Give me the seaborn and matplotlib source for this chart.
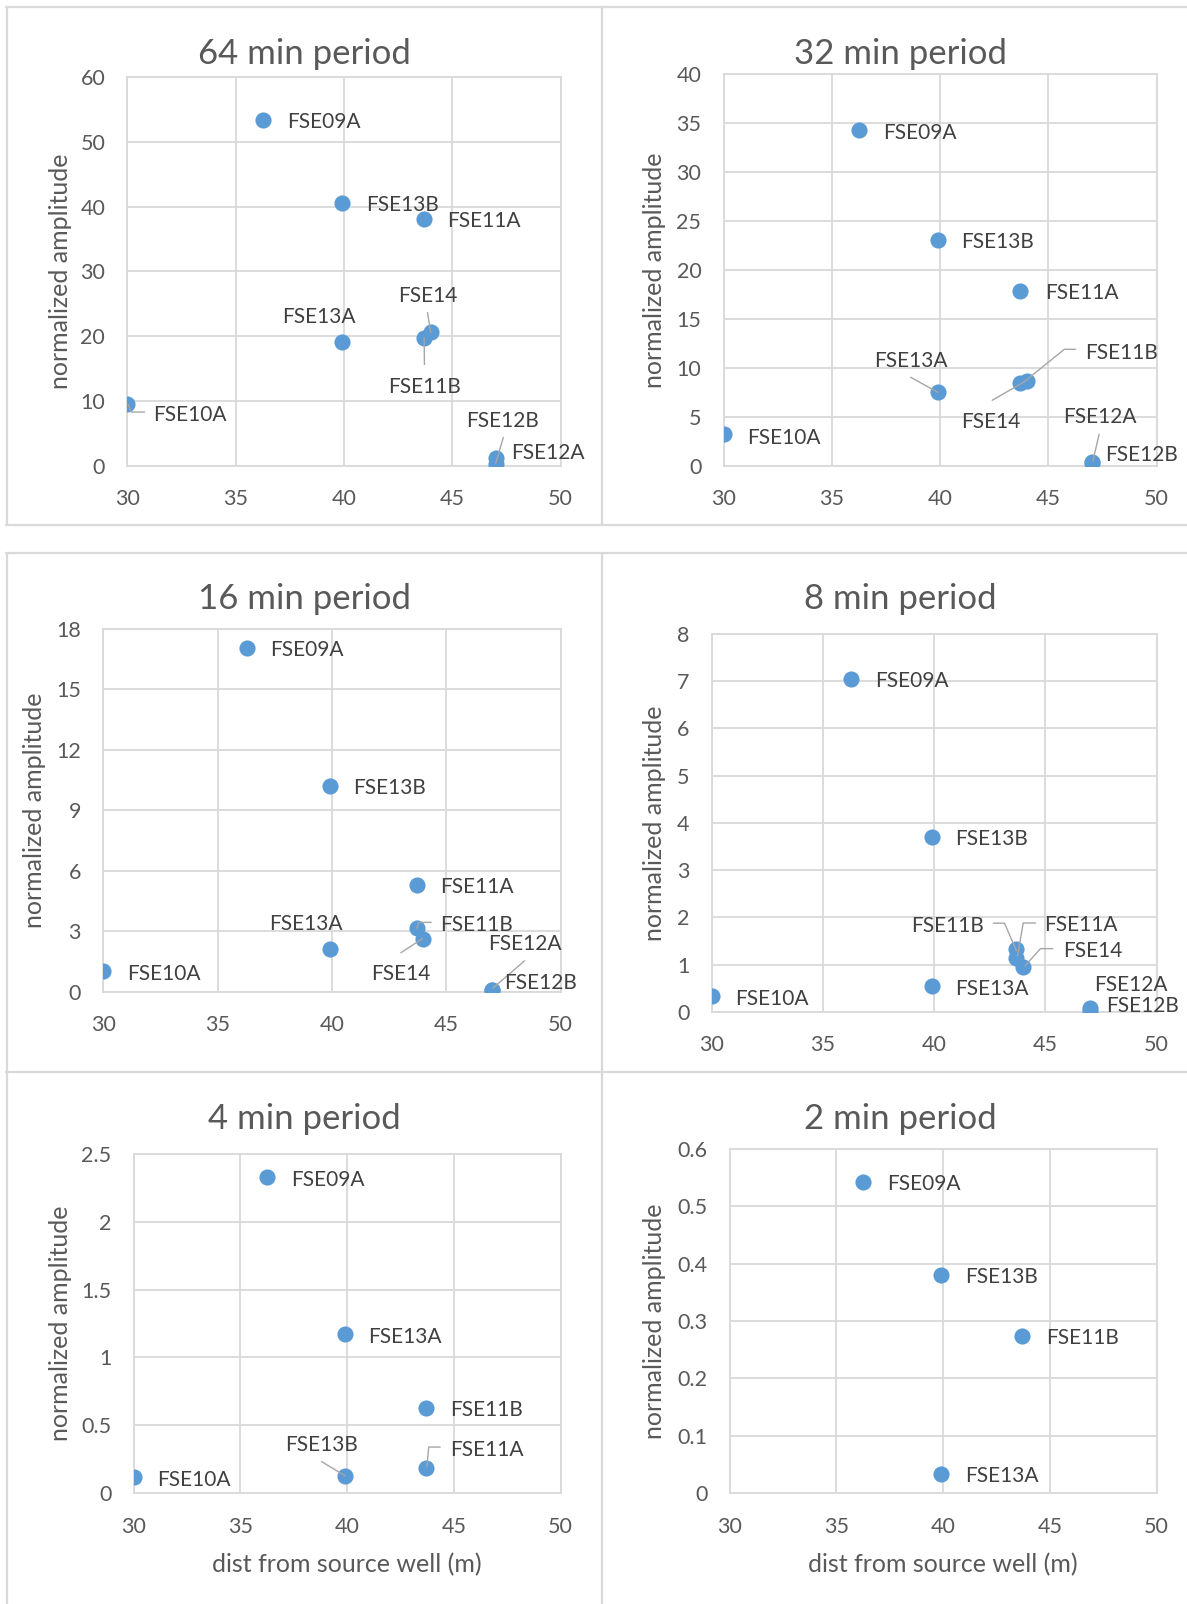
import numpy as np
import pandas as pd
import matplotlib
matplotlib.use("Agg")
import matplotlib.pyplot as plt
import seaborn as sns
from matplotlib.lines import Line2D
from matplotlib.transforms import Affine2D, ScaledTranslation
from matplotlib.ticker import FuncFormatter, MultipleLocator

# ---------------------------------------------------------------- data
wells = ["FSE10A", "FSE09A", "FSE13A", "FSE13B", "FSE11A",
         "FSE11B", "FSE14", "FSE12A", "FSE12B"]
dist_m = [30.0, 36.27, 39.9, 39.9, 43.7, 43.7, 44.0, 47.0, 47.0]

amp_64min = [9.5, 53.4, 19.1, 40.6, 38.1, 19.8, 20.6, 1.15, 0.25]
amp_32min = [3.2, 34.3, 7.5, 23.1, 17.9, 8.45, 8.7, 0.35, 0.25]
amp_16min = [1.0, 17.05, 2.13, 10.2, 5.31, 3.15, 2.63, 0.10, 0.06]
amp_8min = [0.34, 7.05, 0.54, 3.71, 1.33, 1.14, 0.95, 0.07, 0.02]

wells_4min = ["FSE10A", "FSE09A", "FSE13A", "FSE13B", "FSE11A", "FSE11B"]
dist_4min = [30.0, 36.27, 39.9, 39.9, 43.7, 43.7]
amp_4min = [0.115, 2.33, 1.17, 0.128, 0.186, 0.63]

wells_2min = ["FSE09A", "FSE13A", "FSE13B", "FSE11B"]
dist_2min = [36.27, 39.9, 39.9, 43.7]
amp_2min = [0.5425, 0.034, 0.381, 0.274]

titles = ["64 min period", "32 min period", "16 min period",
          "8 min period", "4 min period", "2 min period"]
y_max = [60, 40, 18, 8, 2.5, 0.6]
y_step = [10, 5, 3, 1, 0.5, 0.1]
x_ticks = [30, 35, 40, 45, 50]
y_label = "normalized amplitude"
x_label = "dist from source well (m)"

# ---------------------------------------------------------------- style
W, H = 1187, 1604
BLUE = "#5b9bd5"
GRID = "#d9d9d9"
TEXT = "#595959"
LABEL_TEXT = "#404040"
LEADER = "#a6a6a6"
LABEL_PT = 15
CAP = LABEL_PT * 0.72 * 100 / 72

sns.set_theme(style="white")
plt.rcParams["font.family"] = ["Lato", "DejaVu Sans"]

fig = plt.figure(figsize=(W / 100, H / 100), dpi=100)
fig.patch.set_facecolor("white")


def rect(l, t, r, b):
    return [l / W, 1 - b / H, (r - l) / W, (b - t) / H]


def fx(x):
    return x / W


def fy(y):
    return 1 - y / H


# plot-area boxes (left, top, right, bottom) in pixels
boxes = [(127.4, 77.1, 560.6, 465.8), (723.5, 74.4, 1156.7, 465.8),
         (103.3, 628.6, 560.6, 991.6), (711.6, 634.0, 1156.7, 1011.8),
         (133.6, 1154.1, 560.6, 1493.0), (729.5, 1149.0, 1156.7, 1493.0)]
title_pos = [(304, 64), (900, 64), (305, 609), (900, 609),
             (304, 1128.6), (900, 1128.6)]
ylabel_x = [60, 655, 34.5, 654, 60, 654]

DEFAULT = ("left", 24, 1, None)
# label placement: (align, dx, dy, leader path) in pixels, y downwards
place_64 = {
    "FSE09A": ("left", 24, 1, None),
    "FSE13B": ("left", 24, 1, None),
    "FSE11A": ("left", 23, 1, None),
    "FSE13A": ("center", -23, -27, None),
    "FSE14": ("center", -3, -37.5, [(-3.1, -19.7), (0, 0)]),
    "FSE11B": ("center", 0, 47.7, [(0.3, 27), (0, 0)]),
    "FSE10A": ("left", 26, 9, [(0.7, 0), (3.8, 7.8), (17.2, 7.8)]),
    "FSE12A": ("left", 16, -6.8, None),
    "FSE12B": ("center", 6.9, -44.6, [(7.7, -26.7), (0, -0.6)]),
}
place_32 = {
    "FSE09A": ("left", 24.3, 1, None),
    "FSE13B": ("left", 23.6, 1, None),
    "FSE11A": ("left", 24.4, 1, None),
    "FSE13A": ("center", -27, -32.8, [(-27.3, -15.2), (0, 0)]),
    "FSE11B": ("left", 64.8, -31.7, [(3, -0.6), (44.1, -33.8), (55.4, -33.8)]),
    "FSE14": ("center", -35.6, 39.5, [(-34.5, 19.6), (-3.4, 1.7)]),
    "FSE10A": ("left", 24, 1.7, None),
    "FSE12A": ("center", 7.9, -46.6, [(7.4, -28.1), (1.1, -1)]),
    "FSE12B": ("left", 13.8, -9.4, None),
}
place_16 = {
    "FSE09A": ("left", 23, 1, None),
    "FSE13B": ("left", 23.3, 1, None),
    "FSE11A": ("left", 23.3, 0.7, None),
    "FSE11B": ("left", 23.3, -4.1, [(0.3, 0), (2.3, -5.7), (14.6, -5.7)]),
    "FSE14": ("center", -23, 33.8, [(-22.6, 14.2), (-0.8, 0)]),
    "FSE13A": ("center", -23.8, -26.4, None),
    "FSE10A": ("left", 23.8, 1, None),
    "FSE12A": ("center", 32.7, -46.6, [(32.5, -28.7), (1.1, -1.6)]),
    "FSE12B": ("left", 12.6, -8.4, None),
}
place_8 = {
    "FSE09A": ("left", 23.9, 1, None),
    "FSE13B": ("left", 23.6, 1, None),
    "FSE11A": ("left", 28, -25.4, [(1.1, 6.8), (6.7, -26), (19.1, -26)]),
    "FSE11B": ("right", -32.6, -33.2, [(-23.2, -34.8), (-12, -34.8), (0, -7.1)]),
    "FSE14": ("left", 39.6, -17.6, [(2.2, -1.4), (17.3, -18.3), (29.6, -18.3)]),
    "FSE13A": ("left", 23.6, 1, None),
    "FSE10A": ("left", 23.6, 1.4, None),
    "FSE12A": ("left", 4.5, -25.4, None),
    "FSE12B": ("left", 15.7, -6.8, None),
}
place_4 = {
    "FSE09A": ("left", 23.6, 1, None),
    "FSE13A": ("left", 23.4, 1, None),
    "FSE11B": ("left", 23.8, 1.4, None),
    "FSE11A": ("left", 23.8, -19, [(0.8, -1), (2.6, -20.7), (14.1, -20.7)]),
    "FSE13B": ("center", -23.3, -31.7, [(-23.3, -14), (0, 0)]),
    "FSE10A": ("left", 24, 1.3, None),
}
place_2 = {}

panels = [
    (wells, dist_m, amp_64min, place_64),
    (wells, dist_m, amp_32min, place_32),
    (wells, dist_m, amp_16min, place_16),
    (wells, dist_m, amp_8min, place_8),
    (wells_4min, dist_4min, amp_4min, place_4),
    (wells_2min, dist_2min, amp_2min, place_2),
]


def place_labels(ax, names, xs, ys, spec):
    for n, x, y in zip(names, xs, ys):
        ha, dx, dy, leader = spec.get(n, DEFAULT)
        ax.annotate(n, xy=(x, y), xytext=(dx, -(dy + CAP / 2)),
                    textcoords="offset pixels", ha=ha, va="baseline",
                    fontsize=LABEL_PT, color=LABEL_TEXT,
                    annotation_clip=False, zorder=5)
        if leader:
            lx, ly = zip(*leader)
            tr = Affine2D().scale(1, -1) + ScaledTranslation(x, y, ax.transData)
            ax.add_line(Line2D(lx, ly, transform=tr, color=LEADER, lw=1.0,
                               clip_on=False, zorder=4))


for i, (names, xs, ys, spec) in enumerate(panels):
    ax = fig.add_axes(rect(*boxes[i]))
    df = pd.DataFrame({"well": names, "dist": xs, "amp": ys})
    sns.scatterplot(data=df, x="dist", y="amp", ax=ax, color=BLUE, s=135,
                    linewidth=0, zorder=3, legend=False)
    ax.set_xlim(30, 50)
    ax.set_ylim(0, y_max[i])
    ax.set_xticks(x_ticks)
    ax.yaxis.set_major_locator(MultipleLocator(y_step[i]))
    ax.yaxis.set_major_formatter(FuncFormatter(lambda v, p: f"{round(v, 3):g}"))
    ax.grid(True, color=GRID, lw=1.3)
    ax.set_axisbelow(True)
    for s in ax.spines.values():
        s.set_color(GRID)
        s.set_linewidth(1.3)
    ax.tick_params(axis="both", length=0, labelsize=15.5, labelcolor=TEXT)
    ax.tick_params(axis="x", pad=17)
    ax.tick_params(axis="y", pad=16)
    ax.set_xlabel("")
    ax.set_ylabel("")
    place_labels(ax, names, xs, ys, spec)

    l, t, r, b = boxes[i]
    tx, ty = title_pos[i]
    fig.text(fx(tx), fy(ty), titles[i], ha="center", va="baseline",
             fontsize=25, color=TEXT)
    fig.text(fx(ylabel_x[i]), fy((t + b) / 2), y_label, rotation=90,
             ha="center", va="center", fontsize=18, color=TEXT)
    if i >= 4:
        fig.text(fx((l + r) / 2), fy(1565), x_label, ha="center",
                 va="center", fontsize=18, color=TEXT)

# chart-area frames
frame_kw = dict(color=GRID, lw=1.6, transform=fig.transFigure)
for yy in (7, 525, 553, 1072):
    fig.add_artist(Line2D([fx(6), fx(W)], [fy(yy), fy(yy)], **frame_kw))
for xx in (6.7, 602):
    fig.add_artist(Line2D([fx(xx), fx(xx)], [fy(7), fy(525)], **frame_kw))
    fig.add_artist(Line2D([fx(xx), fx(xx)], [fy(553), fy(H)], **frame_kw))

fig.savefig("out.png", dpi=100, facecolor="white")
